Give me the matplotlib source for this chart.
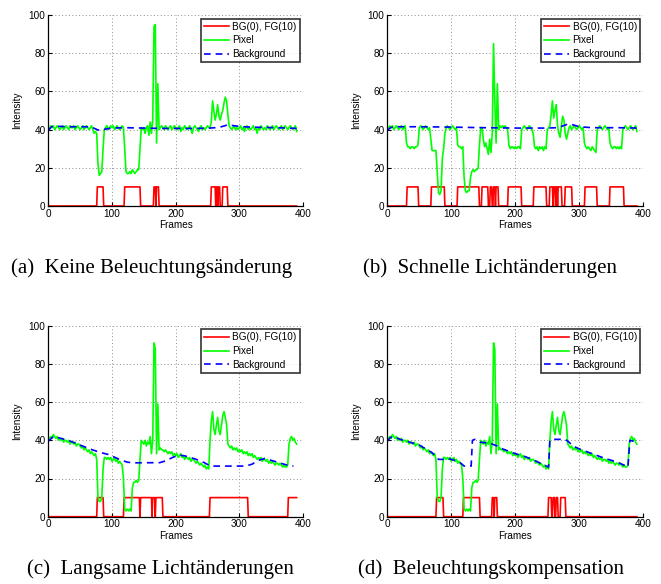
import numpy as np
import matplotlib
matplotlib.use("Agg")
import matplotlib.pyplot as plt

# ---------------- data ----------------
frames_step2 = list(range(0, 391, 2))

pixel_a = [
    40, 41, 42, 41, 42, 40, 41, 42, 41, 40,
    41, 42, 40, 41, 42, 41, 40, 42, 41, 41,
    42, 40, 41, 42, 41, 40, 41, 42, 40, 41,
    42, 41, 40, 41, 42, 40, 38, 39, 38, 22,
    16, 17, 18, 30, 40, 41, 42, 40, 41, 42,
    41, 42, 40, 41, 42, 41, 40, 41, 42, 41,
    30, 18, 17, 17, 18, 17, 19, 18, 17, 18,
    19, 19, 30, 41, 40, 41, 38, 41, 42, 37,
    44, 38, 45, 94, 95, 33, 64, 40, 41, 42,
    41, 40, 42, 41, 40, 41, 42, 40, 41, 42,
    41, 40, 41, 42, 39, 41, 40, 42, 41, 40,
    41, 42, 40, 38, 41, 42, 41, 40, 39, 41,
    42, 40, 41, 40, 41, 42, 41, 41, 44, 55,
    50, 45, 48, 53, 47, 45, 48, 50, 54, 57,
    55, 48, 42, 41, 40, 41, 42, 40, 41, 40,
    41, 42, 40, 41, 39, 41, 42, 40, 41, 40,
    41, 42, 40, 41, 38, 41, 40, 42, 41, 40,
    41, 40, 42, 41, 40, 41, 42, 40, 41, 42,
    41, 40, 41, 42, 40, 41, 42, 41, 40, 41,
    42, 41, 40, 41, 42, 39,
]

pixel_b = [
    40, 41, 42, 41, 42, 40, 41, 42, 41, 40,
    41, 42, 40, 41, 42, 33, 31, 31, 30, 31,
    31, 30, 31, 31, 32, 41, 42, 41, 40, 41,
    42, 41, 40, 41, 35, 29, 29, 29, 29, 18,
    7, 6, 8, 25, 30, 38, 41, 42, 41, 40,
    41, 42, 41, 40, 41, 32, 31, 31, 30, 31,
    15, 8, 7, 8, 8, 15, 18, 19, 18, 19,
    19, 20, 32, 41, 41, 35, 31, 33, 30, 27,
    35, 28, 38, 85, 55, 33, 64, 40, 42, 41,
    42, 41, 42, 41, 40, 32, 30, 31, 31, 30,
    31, 30, 31, 31, 30, 40, 41, 42, 41, 40,
    41, 42, 41, 40, 38, 31, 30, 31, 29, 31,
    30, 31, 29, 31, 30, 40, 41, 42, 48, 55,
    46, 50, 53, 42, 38, 36, 42, 47, 45, 38,
    35, 38, 41, 42, 40, 41, 42, 41, 40, 41,
    42, 41, 40, 41, 33, 31, 30, 31, 30, 29,
    31, 30, 29, 28, 40, 41, 42, 41, 40, 41,
    42, 41, 40, 41, 33, 31, 30, 31, 31, 30,
    31, 30, 31, 30, 40, 41, 42, 41, 40, 41,
    42, 41, 40, 41, 42, 39,
]

# the same pixel sequence is shown in (c) and (d)
pixel_cd = [
    40, 41, 42, 41, 43, 42, 41, 42, 40, 41,
    40, 41, 39, 40, 40, 39, 40, 38, 39, 39,
    38, 39, 37, 38, 38, 37, 36, 37, 35, 36,
    35, 34, 35, 33, 34, 33, 32, 33, 30, 10,
    8, 8, 10, 25, 31, 31, 30, 31, 30, 31,
    29, 30, 31, 29, 30, 28, 29, 28, 27, 20,
    4, 3, 4, 3, 4, 3, 15, 18, 18, 19,
    18, 19, 30, 40, 39, 38, 40, 37, 39, 38,
    42, 33, 40, 91, 88, 33, 59, 35, 36, 35,
    35, 34, 35, 34, 33, 34, 33, 34, 32, 33,
    32, 33, 31, 32, 33, 31, 32, 30, 31, 31,
    30, 31, 29, 30, 30, 29, 28, 29, 28, 27,
    28, 27, 26, 27, 25, 26, 25, 40, 50, 55,
    46, 43, 48, 52, 45, 43, 48, 53, 55, 52,
    48, 38, 37, 36, 37, 35, 36, 35, 36, 34,
    35, 34, 35, 33, 34, 33, 34, 32, 33, 32,
    33, 31, 32, 31, 30, 31, 30, 31, 29, 30,
    30, 29, 30, 28, 29, 28, 29, 28, 27, 28,
    28, 27, 28, 27, 26, 27, 26, 26, 27, 38,
    41, 42, 40, 41, 39, 38,
]

bg_a_frames = [0, 5, 10, 30, 60, 70, 78, 82, 90, 100, 120, 150, 180, 220, 250,
               262, 272, 282, 292, 305, 330, 360, 390]
bg_a_values = [39.5, 41.5, 41.8, 41.5, 41.5, 41, 39.8, 39.5, 40.3, 40.8, 41, 40.8,
               40.6, 40.6, 40.7, 41, 41.5, 42.5, 42, 41.5, 41.2, 41, 40.6]

bg_b_frames = [0, 5, 10, 50, 100, 150, 200, 250, 265, 275, 283, 290, 300, 320,
               360, 390]
bg_b_values = [39.5, 41, 41.5, 41.5, 41.3, 41, 40.8, 40.8, 41, 42, 43, 42.5, 41.5,
               41, 41, 40.8]

bg_c_frames = [0, 8, 20, 35, 50, 65, 80, 95, 105, 115, 125, 135, 175, 185, 195,
               205, 215, 230, 245, 252, 258, 310, 320, 330, 340, 350, 362, 375, 385]
bg_c_values = [39.5, 42, 41, 39.5, 37.5, 35.5, 33.8, 32.5, 31, 29.5, 28.5, 28.2,
               28.3, 29.3, 31, 32.3, 31.8, 30.3, 28.3, 27, 26.5, 26.5, 27.5, 29.5,
               30.5, 29.5, 28.3, 27, 26.5]

bg_d_frames = [0, 5, 10, 20, 30, 40, 50, 60, 70, 78, 80, 90, 95, 105, 115, 120,
               131, 133, 137, 145, 160, 172, 180, 200, 215, 230, 245, 252, 254,
               258, 278, 284, 290, 300, 320, 340, 360, 376, 379, 385]
bg_d_values = [39.5, 41.5, 42, 40.5, 39.5, 38.5, 37.5, 35.5, 33.5, 31, 30, 30,
               30.5, 29.5, 28, 26.5, 26.5, 40, 40.5, 39, 38.5, 37, 35.5, 33, 31.5,
               29.5, 27, 26, 40, 40.5, 40.5, 39, 37, 35.5, 33, 30.5, 28.5, 26, 40,
               39.5]

# foreground intervals (frames where the state is FG = 10)
fg_a = [(77, 86), (120, 144), (166, 168), (170, 173), (256, 262), (264, 265),
        (267, 269), (274, 281)]
fg_b = [(31, 48), (69, 89), (110, 143), (148, 157), (161, 163), (166, 168),
        (170, 173), (189, 209), (229, 248), (254, 258), (260, 262), (264, 265),
        (267, 272), (278, 288), (309, 327), (348, 369)]
fg_c = [(77, 86), (119, 143), (145, 162), (164, 167), (169, 179), (254, 313),
        (377, 390)]
fg_d = [(77, 87), (119, 144), (164, 166), (168, 171), (252, 256), (259, 261),
        (264, 266), (271, 278)]

last_frame = 390
captions = ["(a)  Keine Beleuchtungsänderung", "(b)  Schnelle Lichtänderungen",
            "(c)  Langsame Lichtänderungen", "(d)  Beleuchtungskompensation"]
legend_labels = ["BG(0), FG(10)", "Pixel", "Background"]
x_ticks = [0, 100, 200, 300, 400]
y_ticks = [0, 20, 40, 60, 80, 100]


def fg_line(intervals, end):
    xs, ys = [0], [0]
    for s, e in intervals:
        xs += [s - 1, s, e]
        ys += [0, 10, 10]
        if e < end:
            xs.append(e + 1)
            ys.append(0)
    if xs[-1] < end:
        xs.append(end)
        ys.append(0 if ys[-1] == 0 else 10)
    return xs, ys


# ---------------- figure ----------------
plt.rcParams['font.family'] = ['Liberation Sans', 'DejaVu Sans']
W, H = 661, 584
fig = plt.figure(figsize=(W / 100, H / 100), dpi=100)


def ax_rect(x0, x1, ytop, ybot):
    return [x0 / W, 1 - ybot / H, (x1 - x0) / W, (ybot - ytop) / H]


rects = [ax_rect(48.3, 303, 15, 206), ax_rect(387.3, 643.3, 15, 206),
         ax_rect(48.3, 303, 325.7, 516.7), ax_rect(387.3, 643.3, 325.7, 516.7)]
panels = [
    (pixel_a, bg_a_frames, bg_a_values, fg_a),
    (pixel_b, bg_b_frames, bg_b_values, fg_b),
    (pixel_cd, bg_c_frames, bg_c_values, fg_c),
    (pixel_cd, bg_d_frames, bg_d_values, fg_d),
]
caption_pos = [(152, 268), (490, 268), (160, 569), (491, 569)]

for rect, (pix, bgx, bgy, fg), cap, cpos in zip(rects, panels, captions, caption_pos):
    ax = fig.add_axes(rect)
    fx, fy = fg_line(fg, last_frame)
    l1, = ax.plot(fx, fy, color='#ff0000', lw=1.2)
    l2, = ax.plot(frames_step2, pix, color='#00ff00', lw=1.2)
    l3, = ax.plot(bgx, bgy, color='#0000ff', lw=1.2, ls=(0, (4, 3)))
    ax.set_xlim(0, 400)
    ax.set_ylim(0, 100)
    ax.set_xticks(x_ticks)
    ax.set_yticks(y_ticks)
    ax.tick_params(direction='in', length=3, width=0.8, labelsize=7.2, pad=2)
    for s in ['top', 'right']:
        ax.spines[s].set_visible(False)
    for s in ['left', 'bottom']:
        ax.spines[s].set_linewidth(0.9)
    ax.grid(True, color='0.55', ls=(0, (1, 2.5)), lw=0.7)
    ax.set_axisbelow(True)
    ax.set_xlabel("Frames", fontsize=7.2, labelpad=1)
    ax.set_ylabel("Intensity", fontsize=7.2, labelpad=5)
    leg = ax.legend([l1, l2, l3], legend_labels, loc='upper right', fontsize=7.2,
                    frameon=True, fancybox=False, handlelength=2.5,
                    borderpad=0.3, labelspacing=0.38, handletextpad=0.35,
                    borderaxespad=0.35)
    leg.get_frame().set_edgecolor('black')
    leg.get_frame().set_linewidth(1.2)
    fig.text(cpos[0] / W, 1 - cpos[1] / H, cap, ha='center', va='center',
             fontsize=15, family=['Liberation Serif', 'DejaVu Serif'])

fig.savefig("out.png", dpi=100)
